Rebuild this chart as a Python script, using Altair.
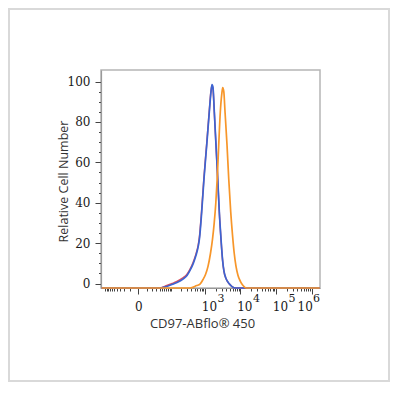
import altair as alt
import pandas as pd

# ---- data (fluorescence intensity vs. relative cell number) ----
blue_x = [-130, 15, 41, 79, 114, 152, 230, 302, 370, 461, 552, 643, 696, 804, 936, 1117, 1324,
          1480, 1580, 1686, 1836, 2051, 2291, 2542, 2840, 3131, 3450, 3931, 4776, 5800, 7520, 1.7e6]
blue_y = [-2.2, -2.2, -2.2, -1.2, -0.3, 0.5, 2.2, 4, 6.5, 10, 14, 18.6, 22.5, 35.5, 52, 68.5, 85,
          95, 98.5, 97, 85, 68.5, 52, 35.5, 22, 12, 6, 2.5, 0, -1.5, -2.2, -2.2]

red_x = [-130, 15, 38, 72, 106, 145, 222, 295, 362, 452, 543, 634, 688, 795, 927, 1108, 1315,
         1470, 1572, 1680, 1830, 2045, 2285, 2535, 2832, 3122, 3440, 3920, 4760, 5790, 7510, 1.7e6]
red_y = [-2.2, -2.2, -2.2, -1.0, 0, 0.9, 2.7, 4.4, 6.8, 10.3, 14.3, 18.8, 22.7, 35.5, 52, 68.5, 85,
         95, 98, 96.5, 85, 68.5, 52, 35.5, 22, 12, 6, 2.5, 0, -1.5, -2.2, -2.2]

orange_x = [-130, 370, 578, 719, 876, 1032, 1216, 1432, 1632, 1824, 2025, 2232, 2445, 2714, 2992,
            3173, 3406, 3683, 4195, 4683, 5333, 5993, 6693, 7520, 8562, 10068, 11841, 14380, 1.7e6]
orange_y = [-2.2, -2.2, -1, -0.3, 2, 4.5, 8.5, 15, 22, 30, 40, 53, 68.5, 85, 94,
            97, 95, 85, 68.5, 52, 35.5, 24, 15, 8.5, 4, 1, -1, -2.2, -2.2]

x_major = [0, 1000, 10000, 100000, 1000000]
x_major_labels = ["0", "10", "10", "10", "10"]
x_exp_values = [1000, 10000, 100000]
x_exp_labels = ["3", "4", "5"]
x_exp_last_values = [1000000]
x_exp_last_labels = ["6"]
x_minor = ([-m * 10 for m in range(1, 11)] + [m * 10 for m in range(1, 10)] +
           [m * 10 ** k for k in range(2, 6) for m in range(1, 10) if m * 10 ** k not in x_major])
y_major = [0, 20, 40, 60, 80, 100]
y_minor = [5, 10, 15, 25, 30, 35, 45, 50, 55, 65, 70, 75, 85, 90, 95]

x_title = "CD97-ABflo® 450"
y_title = "Relative Cell Number"

# ---- scales / axes ----
major_test = " || ".join(f"datum.value == {v}" for v in x_major)
label_expr = " : ".join(f"datum.value == {v} ? '{l}'" for v, l in zip(x_major, x_major_labels)) + " : ''"

x_axis = alt.Axis(
    values=sorted(x_major + x_minor),
    labelExpr=label_expr,
    tickSize={"condition": {"test": major_test, "value": 6}, "value": 3},
    labelAlign="left",
    labelOffset={"condition": {"test": "datum.value == 1000000", "value": -14.5}, "value": -3.7},
    labelPadding=7,
    labelFlush=False,
    labelOverlap=False,
    title=x_title,
    titleX=101, titleY=35, titleBaseline="middle", titleAlign="center",
    titleFontSize=13,
    grid=False,
)
y_axis = alt.Axis(
    values=y_major + y_minor,
    labelExpr="datum.value % 20 == 0 ? datum.label : ''",
    tickSize={"condition": {"test": "datum.value % 20 == 0", "value": 6}, "value": 2.5},
    labelPadding=5,
    title=y_title,
    titleX=-38, titleY=111, titleBaseline="middle", titleAlign="center",
    titleFontSize=12.5,
    grid=False,
)

x_scale = alt.Scale(type="symlog", constant=13.5, domain=[-137.6, 1.73e6], nice=False, zero=False)
x_enc = alt.X("x:Q", scale=x_scale, axis=x_axis)
y_enc = alt.Y("y:Q", scale=alt.Scale(domain=[-2.2, 105.7], nice=False, zero=False), axis=y_axis)

W, H = 219, 218
PAD = {"left": 93, "top": 62, "right": 70, "bottom": 94}


def curve(xs, ys, color, width):
    return alt.Chart(pd.DataFrame({"x": xs, "y": ys})).mark_line(
        color=color, strokeWidth=width, interpolate="monotone"
    ).encode(x=x_enc, y=y_enc)


def exponents(xs, labels, dx):
    return alt.Chart(pd.DataFrame({"x": xs, "t": labels})).mark_text(
        font="DejaVu Serif", fontSize=11, color="#1a1a1a", align="left",
        baseline="middle", dx=dx, clip=False
    ).encode(x=x_enc, y=alt.value(H + 10.5), text="t:N")


border = alt.Chart(pd.DataFrame({"a": [0]})).mark_rect(
    filled=False, stroke="#d9d9d9", strokeWidth=2, clip=False
).encode(
    x=alt.value(-PAD["left"] + 1), x2=alt.value(W + PAD["right"] - 1),
    y=alt.value(-PAD["top"] + 1), y2=alt.value(H + PAD["bottom"] - 1),
)

chart = alt.layer(
    border,
    curve(red_x, red_y, "#d9505e", 1.5),
    curve(blue_x, blue_y, "#3c64d2", 1.7),
    curve(orange_x, orange_y, "#f7962a", 1.7),
    exponents(x_exp_values, x_exp_labels, 12.5),
    exponents(x_exp_last_values, x_exp_last_labels, 1.5),
).properties(
    width=W, height=H,
    autosize=alt.AutoSizeParams(type="none"),
    padding=PAD,
    background="white",
).configure_view(
    stroke="#b5b5b5", strokeWidth=1.5
).configure_axis(
    domainColor="#999999", domainWidth=1.2,
    tickColor="#444444", tickWidth=1,
    labelFont="DejaVu Serif", labelFontSize=12, labelColor="#1a1a1a",
    titleFont="Open Sans", titleFontWeight="normal", titleColor="#333333",
)

chart.save("out.html", embed_options={"renderer": "svg", "actions": False})
